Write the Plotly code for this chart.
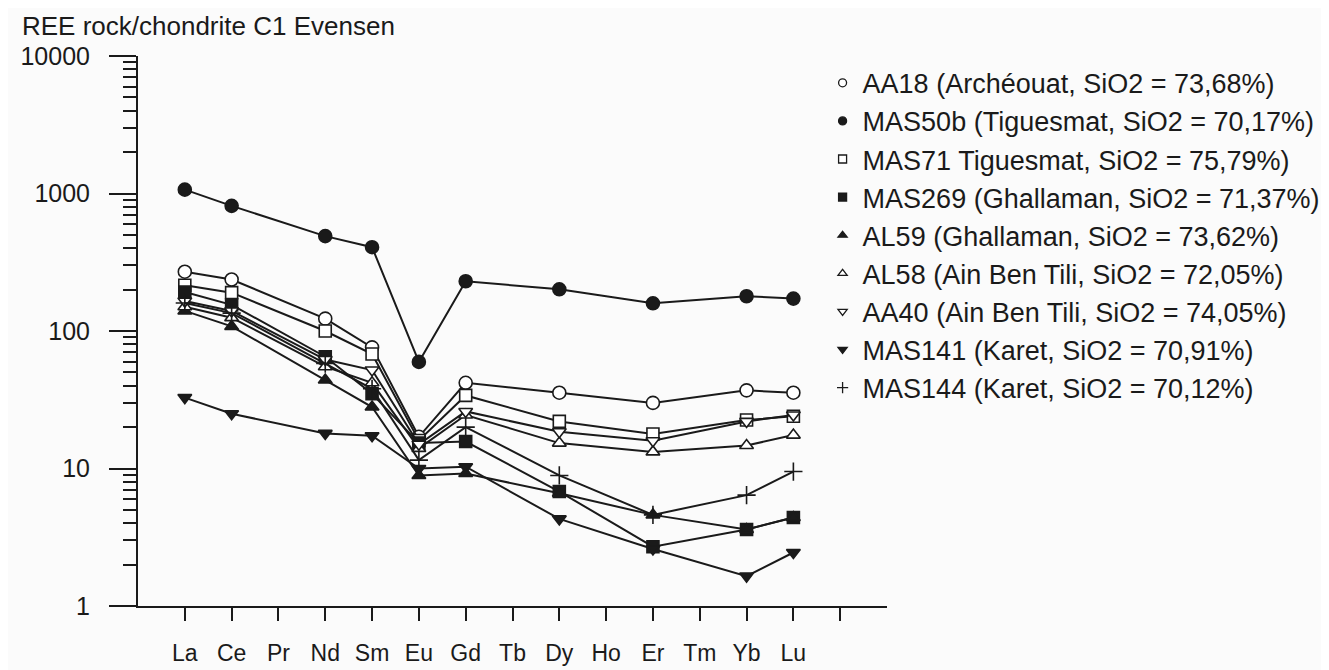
import plotly.graph_objects as go

# REE order on the x axis (Pr, Tb, Ho, Tm carry no analyses)
ELEMENTS = ["La", "Ce", "Pr", "Nd", "Sm", "Eu", "Gd", "Tb", "Dy", "Ho", "Er", "Tm", "Yb", "Lu"]
TICK_TEXT = ELEMENTS + [""]   # one extra empty tick after Lu
Y_TICKS = [1, 10, 100, 1000, 10000]
Y_TICK_TEXT = ["1", "10", "100", "1000", "10000"]

# chondrite-normalised values (None = not analysed)
AA18   = [270, 237, None, 123, 76, 17, 42, None, 35.6, None, 30, None, 37, 35.6]
MAS50b = [1067, 813, None, 490, 407, 59.6, 230, None, 201, None, 159, None, 179, 172]
MAS71  = [215, 190, None, 100, 68, 16, 34, None, 22, None, 17.8, None, 22.5, 24]
MAS269 = [192, 155, None, 65, 35, 15.3, 15.7, None, 6.8, None, 2.7, None, 3.6, 4.4]
AL59   = [140, 108, None, 44, 28, 8.9, 9.2, None, 6.6, None, 4.6, None, 3.6, 4.4]
AL58   = [150, 125, None, 55, 42, 14, 24.5, None, 15.3, None, 13.2, None, 14.7, 17.5]
AA40   = [165, 140, None, 62, 52, 15, 26, None, 18.5, None, 15.9, None, 22, 24.5]
MAS141 = [32.8, 25, None, 18, 17.3, 10, 10.3, None, 4.3, None, 2.6, None, 1.65, 2.45]
MAS144 = [160, 135, None, 58, 38, 11.5, 20, None, 8.9, None, 4.6, None, 6.4, 9.5]

NAMES = [
    "AA18 (Archéouat, SiO2 = 73,68%)",
    "MAS50b (Tiguesmat, SiO2 = 70,17%)",
    "MAS71 Tiguesmat, SiO2 = 75,79%)",
    "MAS269 (Ghallaman, SiO2 = 71,37%)",
    "AL59 (Ghallaman, SiO2 = 73,62%)",
    "AL58 (Ain Ben Tili, SiO2 = 72,05%)",
    "AA40 (Ain Ben Tili, SiO2 = 74,05%)",
    "MAS141 (Karet, SiO2 = 70,91%)",
    "MAS144 (Karet, SiO2 = 70,12%)",
]
SERIES = [AA18, MAS50b, MAS71, MAS269, AL59, AL58, AA40, MAS141, MAS144]

INK = "#1a1a1a"
FONT = "Liberation Sans, Arial, Helvetica, sans-serif"

# symbol, fill, size
STYLES = [
    ("circle", "white", 13),
    ("circle", INK, 13),
    ("square", "white", 12),
    ("square", INK, 12),
    ("triangle-up", INK, 12),
    ("triangle-up", "white", 12),
    ("triangle-down", "white", 12),
    ("triangle-down", INK, 12),
    ("cross-thin", INK, 13),
]

x = list(range(len(ELEMENTS)))

fig = go.Figure()
for name, ys, (sym, fill, size) in zip(NAMES, SERIES, STYLES):
    fig.add_trace(go.Scatter(
        x=x, y=ys, mode="lines+markers", connectgaps=True, showlegend=False,
        line=dict(color=INK, width=2),
        marker=dict(symbol=sym, size=size, color=fill,
                    line=dict(color=INK, width=1.6)),
    ))

# legend entries: symbol only, no line
for name, (sym, fill, size) in zip(NAMES, STYLES):
    fig.add_trace(go.Scatter(
        x=[None], y=[None], mode="markers", name=name,
        marker=dict(symbol=sym, size=8, color=fill,
                    line=dict(color=INK, width=1.3)),
    ))

fig.update_layout(
    width=1329, height=670,
    margin=dict(l=125, r=430, t=48, b=58),
    paper_bgcolor="#fbfbfb", plot_bgcolor="#fbfbfb",
    font=dict(family=FONT, size=25, color=INK),
    title=dict(text="REE rock/chondrite C1 Evensen", x=14 / 1329, xanchor="left",
               y=1 - 18 / 670, yanchor="middle", font=dict(size=26)),
    legend=dict(x=0.914, y=0.995, xanchor="left", yanchor="top",
                bgcolor="rgba(0,0,0,0)", font=dict(size=27),
                itemwidth=30, tracegroupgap=0),
)

fig.update_xaxes(
    range=[-1, 15], tickvals=list(range(len(TICK_TEXT))), ticktext=TICK_TEXT,
    showgrid=False, zeroline=False, showline=True, linecolor=INK, linewidth=2,
    ticks="outside", ticklen=13, tickwidth=1.5, tickcolor=INK,
    ticklabelstandoff=12, tickfont=dict(size=23),
)
fig.update_yaxes(
    type="log", range=[0, 4], tickvals=Y_TICKS, ticktext=Y_TICK_TEXT,
    showgrid=False, zeroline=False, showline=True, linecolor=INK, linewidth=2,
    ticks="outside", ticklen=27, tickwidth=1.5, tickcolor=INK,
    minor=dict(ticks="outside", ticklen=13, tickwidth=1.5, tickcolor=INK, dtick="D1"),
    ticklabelstandoff=14, tickfont=dict(size=25),
)

fig.write_html("out.html")
